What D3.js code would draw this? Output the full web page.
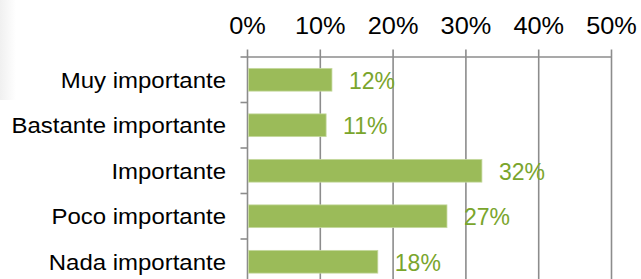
<!DOCTYPE html>
<html>
<head>
<meta charset="utf-8">
<script src="https://cdn.jsdelivr.net/npm/d3@7"></script>
<style>
  body { margin: 0; background: #fff; }
  svg { display: block; font-family: "Liberation Sans", Arial, sans-serif; }
</style>
</head>
<body>
<div id="chart"></div>
<script>
// data
var categories = ['Muy importante', 'Bastante importante', 'Importante', 'Poco importante', 'Nada importante'];
var values = [11.6, 10.8, 32.2, 27.4, 17.9];
var ticks = [0, 10, 20, 30, 40, 50];

var W = 641, H = 279;
// note: "top" is reserved on window, so plot edges get a prefix
var plotLeft = 247.5, plotRight = 611.5, plotTop = 57, plotBottom = 284.5;

var svg = d3.select('#chart').append('svg')
  .attr('width', W)
  .attr('height', H);

// faint shading on the far left edge of the original
var grad = svg.append('defs').append('linearGradient')
  .attr('id', 'edge').attr('x1', 0).attr('x2', 1);
grad.append('stop').attr('offset', 0).attr('stop-color', '#f0f0f0');
grad.append('stop').attr('offset', 1).attr('stop-color', '#fff');
svg.append('rect').attr('x', 0).attr('y', 0).attr('width', 16).attr('height', 100)
  .style('fill', 'url(#edge)');

var x = d3.scaleLinear().domain([0, 50]).range([plotLeft, plotRight]);
var y = d3.scaleBand().domain(categories).range([plotTop, plotBottom])
  .paddingInner(0.5).paddingOuter(0.25);

var gridColor = '#8c8c8c';

// vertical gridlines (with the small tick above the top axis)
svg.append('g').selectAll('line')
  .data(ticks)
  .enter().append('line')
  .attr('x1', function (d) { return x(d); })
  .attr('x2', function (d) { return x(d); })
  .attr('y1', plotTop - 7.5)
  .attr('y2', plotBottom)
  .style('stroke', gridColor)
  .style('stroke-width', 1.6);

// top axis line
svg.append('line')
  .attr('x1', x(0)).attr('x2', x(50))
  .attr('y1', plotTop).attr('y2', plotTop)
  .style('stroke', gridColor)
  .style('stroke-width', 1.6);

// tick labels
svg.append('g').selectAll('text')
  .data(ticks)
  .enter().append('text')
  .attr('transform', function (d) { return 'translate(' + x(d) + ',33.5) scale(1.1,1)'; })
  .attr('text-anchor', 'middle')
  .style('font-size', '23px')
  .style('fill', '#000')
  .text(function (d) { return d + '%'; });

// left axis ticks at band boundaries
var step = y.step();
var bounds = d3.range(categories.length).map(function (i) { return plotTop + i * step; });
svg.append('g').selectAll('line')
  .data(bounds)
  .enter().append('line')
  .attr('x1', x(0) - 7).attr('x2', x(0))
  .attr('y1', function (d) { return d; })
  .attr('y2', function (d) { return d; })
  .style('stroke', gridColor)
  .style('stroke-width', 1.6);

// bars
svg.append('g').selectAll('rect')
  .data(values)
  .enter().append('rect')
  .attr('x', x(0) + 1)
  .attr('y', function (d, i) { return y(categories[i]); })
  .attr('width', function (d) { return x(d) - x(0) - 1; })
  .attr('height', y.bandwidth())
  .style('fill', '#9bbb59')
  .style('stroke', '#c6d9a0')
  .style('stroke-width', 0.8);

// value labels
svg.append('g').selectAll('text')
  .data(values)
  .enter().append('text')
  .attr('x', function (d) { return x(d) + 17; })
  .attr('y', function (d, i) { return y(categories[i]) + y.bandwidth() / 2 + 9; })
  .style('font-size', '23px')
  .style('fill', '#7aa52c')
  .text(function (d) { return Math.round(d) + '%'; });

// category labels
svg.append('g').selectAll('text')
  .data(categories)
  .enter().append('text')
  .attr('transform', function (d) {
    return 'translate(226,' + (y(d) + y.bandwidth() / 2 + 7.8) + ') scale(1.09,1)';
  })
  .attr('text-anchor', 'end')
  .style('font-size', '22px')
  .style('fill', '#000')
  .text(function (d) { return d; });
</script>
</body>
</html>
